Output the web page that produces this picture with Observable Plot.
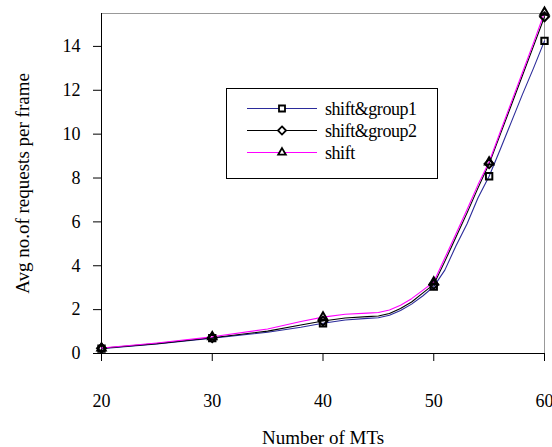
<!DOCTYPE html>
<html>
<head>
<meta charset="utf-8">
<script src="https://cdn.jsdelivr.net/npm/d3@7"></script>
<script src="https://cdn.jsdelivr.net/npm/@observablehq/plot@0.6"></script>
<style>
  body { margin: 0; background: #fff; }
</style>
</head>
<body>
<div id="wrap"></div>
<script>
const xs     = [20,   25,   30,   35,   38,   40,   42,   44,   45,   46,   47,   48,   49,   50,   51,   52,   53,   54,   55,   56,    57,    58,    59,    60];
const group1 = [0.22, 0.43, 0.70, 0.97, 1.20, 1.38, 1.53, 1.60, 1.63, 1.74, 1.96, 2.25, 2.62, 3.05, 3.80, 4.90, 5.90, 7.10, 8.08, 9.30,  10.55, 11.80, 13.00, 14.25];
const group2 = [0.24, 0.45, 0.72, 1.02, 1.30, 1.48, 1.62, 1.68, 1.71, 1.82, 2.05, 2.35, 2.75, 3.15, 4.20, 5.30, 6.40, 7.55, 8.65, 9.98,  11.32, 12.66, 14.00, 15.35];
const shift  = [0.25, 0.48, 0.76, 1.12, 1.46, 1.66, 1.79, 1.84, 1.87, 1.98, 2.20, 2.50, 2.88, 3.26, 4.35, 5.45, 6.55, 7.70, 8.73, 10.10, 11.45, 12.80, 14.15, 15.55];
const markerX = [20, 30, 40, 50, 55, 60];
const seriesNames = ["shift&group1", "shift&group2", "shift"];
const seriesColors = ["#2b2b9a", "#000000", "#ff00ff"];
const seriesSymbols = ["square", "diamond2", "triangle2"];
const xTicks = [20, 30, 40, 50, 60];
const yTicks = [0, 2, 4, 6, 8, 10, 12, 14];

const seriesValues = [group1, group2, shift];
const rows = [];
seriesValues.forEach((vals, s) => xs.forEach((x, i) => rows.push({x, y: vals[i], s})));
const marks = rows.filter(d => markerX.includes(d.x));

const font = "Liberation Serif";
const symMap = {square: d3.symbolSquare, diamond2: d3.symbolDiamond2, triangle2: d3.symbolTriangle2};

function legendMark() {
  const g = d3.create("svg:g").attr("font-family", font);
  g.append("rect").attr("x", 226.5).attr("y", 88.5).attr("width", 211).attr("height", 90)
    .attr("fill", "#fff").attr("stroke", "#000");
  seriesNames.forEach((name, i) => {
    const y = 108.5 + i * 22;
    g.append("line").attr("x1", 247).attr("x2", 317).attr("y1", y).attr("y2", y)
      .attr("stroke", seriesColors[i]).attr("stroke-width", 1.1);
    g.append("path").attr("d", d3.symbol(symMap[seriesSymbols[i]], i === 0 ? 36 : 42)())
      .attr("transform", `translate(282,${y})`).attr("fill", "#fff").attr("stroke", "#000").attr("stroke-width", 1.8);
    g.append("text").attr("x", 325).attr("y", y + 6)
      .attr("text-anchor", "start")
      .style("font-variant-ligatures", "none")
      .attr("font-size", 18).attr("letter-spacing", -0.45).text(name);
  });
  return g.node();
}

const chart = Plot.plot({
  width: 552,
  height: 447,
  marginLeft: 101,
  marginRight: 8,
  marginTop: 13,
  marginBottom: 94,
  style: {fontFamily: "Liberation Serif", fontSize: "18px", color: "#000", background: "transparent", overflow: "visible"},
  x: {domain: [20, 60], label: null},
  y: {domain: [0, 15.5], label: null},
  marks: [
    Plot.frame({stroke: "#999"}),
    Plot.ruleX([20], {stroke: "#000"}),
    Plot.ruleY([0], {stroke: "#000"}),
    Plot.axisX({ticks: xTicks, tickSize: 8, tickPadding: 33, fontSize: 18, fontFamily: font, fontVariant: "normal", label: null}),
    Plot.axisY({ticks: yTicks, tickSize: 8, tickPadding: 13, fontSize: 18, fontFamily: font, fontVariant: "normal", label: null}),
    ...[0, 1, 2].map(s => Plot.line(rows.filter(d => d.s === s), {x: "x", y: "y", stroke: seriesColors[s], strokeWidth: 1.1})),
    ...[0, 1, 2].map(s => Plot.dot(marks.filter(d => d.s === s), {x: "x", y: "y", symbol: seriesSymbols[s], r: s === 0 ? 3.6 : 4, stroke: "#000", strokeWidth: 2, fill: "none"})),
    Plot.text(["Number of MTs"], {frameAnchor: "bottom", lineAnchor: "middle", dy: 84, fontSize: 19, fontFamily: font, text: d => d}),
    Plot.text(["Avg no.of requests per frame"], {frameAnchor: "left", textAnchor: "middle", lineAnchor: "middle", dx: -79, rotate: -90, fontSize: 19, fontFamily: font, text: d => d}),
    legendMark
  ]
});

document.getElementById("wrap").appendChild(chart);
</script>
</body>
</html>
